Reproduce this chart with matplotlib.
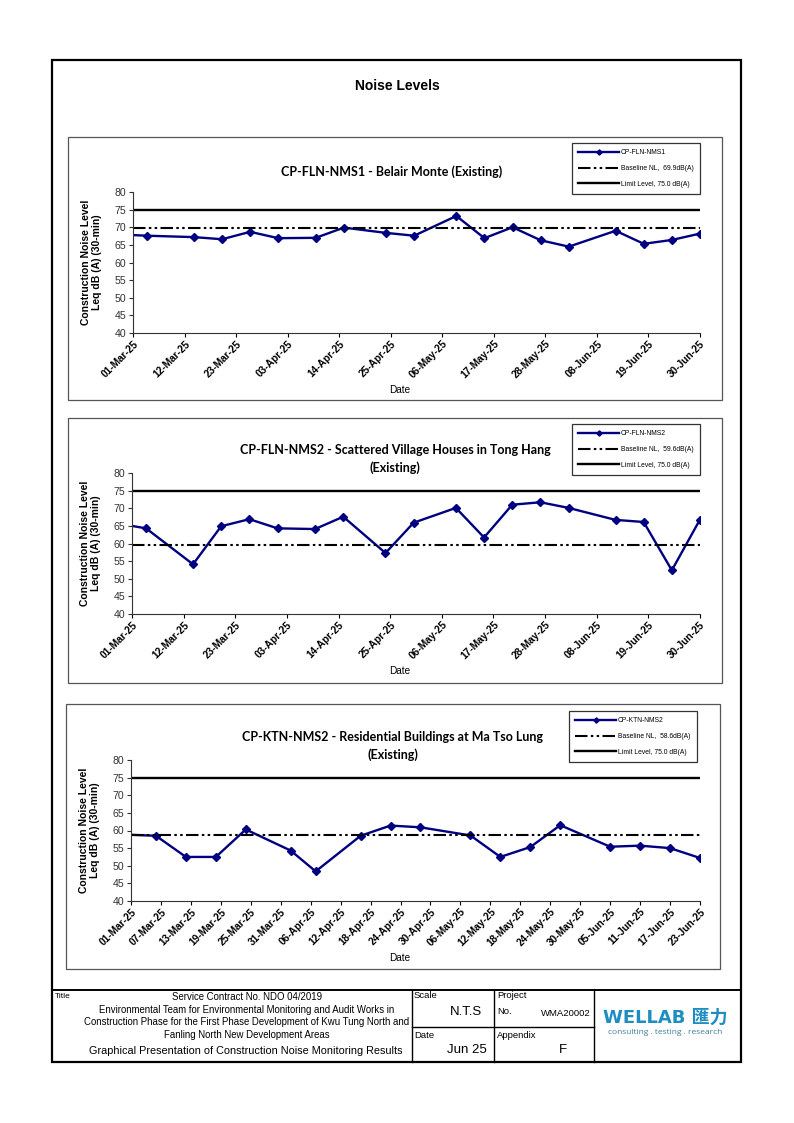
import matplotlib
matplotlib.use("Agg")
import matplotlib.pyplot as plt
import matplotlib.dates as mdates
from matplotlib.patches import Rectangle
from matplotlib.lines import Line2D
import numpy as np
import pandas as pd

# ---------------- data ----------------
nms1_dates = ["2025-02-25", "2025-03-04", "2025-03-14", "2025-03-20", "2025-03-26", "2025-04-01",
              "2025-04-09", "2025-04-15", "2025-04-24", "2025-04-30", "2025-05-09", "2025-05-15",
              "2025-05-21", "2025-05-27", "2025-06-02", "2025-06-12", "2025-06-18", "2025-06-24",
              "2025-06-30"]
nms1_values = [68.0, 67.6, 67.2, 66.6, 68.7, 66.9, 67.0, 69.9, 68.4, 67.6, 73.2, 66.9,
               70.0, 66.3, 64.5, 69.0, 65.3, 66.4, 68.2]
nms1_baseline = 69.9

nms2_dates = nms1_dates
nms2_values = [65.9, 64.3, 54.1, 64.9, 66.9, 64.3, 64.1, 67.6, 57.3, 65.9, 70.1, 61.7,
               71.0, 71.7, 70.1, 66.7, 66.1, 52.4, 66.8]
nms2_baseline = 59.6

ktn_dates = ["2025-02-25", "2025-03-06", "2025-03-12", "2025-03-18", "2025-03-24", "2025-04-02",
             "2025-04-07", "2025-04-16", "2025-04-22", "2025-04-28", "2025-05-08", "2025-05-14",
             "2025-05-20", "2025-05-26", "2025-06-05", "2025-06-11", "2025-06-17", "2025-06-23"]
ktn_values = [59.0, 58.5, 52.5, 52.5, 60.3, 54.3, 48.4, 58.5, 61.4, 60.9, 58.6, 52.5,
              55.3, 61.5, 55.4, 55.7, 55.0, 52.2]
ktn_baseline = 58.6

limit_level = 75.0

charts = [
    dict(title="CP-FLN-NMS1 - Belair Monte (Existing)", name="CP-FLN-NMS1",
         dates=nms1_dates, values=nms1_values, base=nms1_baseline,
         start="2025-03-01", end="2025-06-30", step=11),
    dict(title="CP-FLN-NMS2 - Scattered Village Houses in Tong Hang\n(Existing)", name="CP-FLN-NMS2",
         dates=nms2_dates, values=nms2_values, base=nms2_baseline,
         start="2025-03-01", end="2025-06-30", step=11),
    dict(title="CP-KTN-NMS2 - Residential Buildings at Ma Tso Lung\n(Existing)", name="CP-KTN-NMS2",
         dates=ktn_dates, values=ktn_values, base=ktn_baseline,
         start="2025-03-01", end="2025-06-23", step=6),
]

# ---------------- layout ----------------
W, H = 794, 1123
fig = plt.figure(figsize=(W / 100, H / 100), dpi=100)
plt.rcParams['font.family'] = ['Liberation Sans', 'DejaVu Sans']


def fx(x):
    return x / W


def fy(y):
    return 1 - y / H


def rect(x0, y0, x1, y1, lw=1.0, ec="black"):
    fig.add_artist(Rectangle((fx(x0), fy(y1)), (x1 - x0) / W, (y1 - y0) / H,
                             transform=fig.transFigure, fill=False, lw=lw, ec=ec))


def hline(x0, x1, y, lw=1.0, c="black"):
    fig.add_artist(Line2D([fx(x0), fx(x1)], [fy(y), fy(y)], transform=fig.transFigure, lw=lw, color=c))


def vline(x, y0, y1, lw=1.0, c="black"):
    fig.add_artist(Line2D([fx(x), fx(x)], [fy(y0), fy(y1)], transform=fig.transFigure, lw=lw, color=c))


# outer frame
rect(52, 60, 741, 1062, lw=1.6)
fig.text(fx(397), fy(86), "Noise Levels", ha="center", va="center", fontsize=10, fontweight="bold")

panels = [(68, 137, 722, 400), (68, 418, 722, 683), (66, 704, 720, 969)]
axes_px = [(133, 192, 700, 333), (132, 473, 700, 614), (131, 760, 700, 901)]
title_pos = [(392, 172), (395, 459), (393, 746)]
legend_px = [(572, 143), (572, 424), (569, 711)]
date_y = [390, 671, 958]

navy = "#000080"
base_style = (0, (6, 1.6, 1.2, 1.6, 1.2, 1.6))

for i, c in enumerate(charts):
    rect(*panels[i], lw=0.9, ec="#555555")
    x0, y0, x1, y1 = axes_px[i]
    ax = fig.add_axes([fx(x0), fy(y1), (x1 - x0) / W, (y1 - y0) / H])
    d = pd.to_datetime(c["dates"])
    ln, = ax.plot(d, c["values"], color=navy, lw=1.7, marker="D", ms=4.5,
                  mfc=navy, mec=navy, label=c["name"])
    bl = ax.axhline(c["base"], color="black", lw=1.5, ls=base_style,
                    label=f"Baseline NL,  {c['base']:.1f}dB(A)")
    ll = ax.axhline(limit_level, color="black", lw=1.7, label="Limit Level, 75.0 dB(A)")
    start = pd.Timestamp(c["start"])
    end = pd.Timestamp(c["end"])
    ax.set_xlim(start, end)
    ax.set_ylim(40, 80)
    ax.set_yticks(np.arange(40, 81, 5))
    ticks = pd.date_range(start, end, freq=f"{c['step']}D")
    ax.set_xticks(ticks)
    ax.xaxis.set_major_formatter(mdates.DateFormatter("%d-%b-%y"))
    for s in ["top", "right"]:
        ax.spines[s].set_visible(False)
    for s in ["left", "bottom"]:
        ax.spines[s].set_color("#333333")
        ax.spines[s].set_linewidth(0.8)
    ax.tick_params(axis="y", labelsize=7.6, length=3, width=0.8, colors="#333333", pad=2)
    ax.tick_params(axis="x", labelsize=7.3, length=3, width=0.8, colors="black", pad=1)
    for lab in ax.get_xticklabels():
        lab.set_rotation(45)
        lab.set_ha("right")
        lab.set_va("top")
        lab.set_rotation_mode("anchor")
        lab.set_fontweight("bold")
    ax.set_ylabel("Construction Noise Level\nLeq dB (A) (30-min)", fontsize=7.5, fontweight="bold",
                  labelpad=9, linespacing=1.05)
    fig.text(fx(400), fy(date_y[i]), "Date", ha="center", va="center", fontsize=7.2)
    tx, ty = title_pos[i]
    fig.text(fx(tx), fy(ty), c["title"], ha="center", va="center", fontsize=9,
             fontweight="bold", family=["Lato", "DejaVu Sans"], linespacing=1.45)
    lx, ly = legend_px[i]
    leg = fig.legend(handles=[ln, bl, ll], loc="upper left",
                     bbox_to_anchor=(fx(lx), fy(ly)), bbox_transform=fig.transFigure,
                     fontsize=4.9, frameon=True, fancybox=False, edgecolor="black",
                     handlelength=6.0, handletextpad=0.3, labelspacing=1.3,
                     borderpad=0.9, borderaxespad=0, markerscale=0.6)
    leg.get_frame().set_linewidth(0.9)

# ---------------- title block ----------------
hline(52, 741, 990, lw=1.4)
vline(412, 990, 1062, lw=1.0)
vline(494, 990, 1062, lw=1.0)
vline(594, 990, 1062, lw=1.0)
hline(412, 594, 1027, lw=1.0)

nar = ["Liberation Sans Narrow", "Liberation Sans", "DejaVu Sans"]
fig.text(fx(55), fy(996), "Title", fontsize=6, va="center", ha="left", family=nar)
block_lines = ["Service Contract No. NDO 04/2019",
               "Environmental Team for Environmental Monitoring and Audit Works in",
               "Construction Phase for the First Phase Development of Kwu Tung North and",
               "Fanling North New Development Areas"]
for k, t in enumerate(block_lines):
    fig.text(fx(247), fy(997 + 12.6 * k), t, fontsize=6.9, ha="center", va="center", family=nar)
fig.text(fx(246), fy(1051), "Graphical Presentation of Construction Noise Monitoring Results",
         fontsize=7.8, ha="center", va="center", family=nar)
fig.text(fx(414), fy(996), "Scale", fontsize=6.8, ha="left", va="center", family=nar)
fig.text(fx(466), fy(1012), "N.T.S", fontsize=9.5, ha="center", va="center", family=nar)
fig.text(fx(414), fy(1035), "Date", fontsize=6.8, ha="left", va="center", family=nar)
fig.text(fx(467), fy(1050), "Jun 25", fontsize=9.5, ha="center", va="center", family=nar)
fig.text(fx(497), fy(996), "Project", fontsize=6.8, ha="left", va="center", family=nar)
fig.text(fx(497), fy(1012), "No.", fontsize=6.8, ha="left", va="center", family=nar)
fig.text(fx(591), fy(1014), "WMA20002", fontsize=6.8, ha="right", va="center", family=nar)
fig.text(fx(497), fy(1035), "Appendix", fontsize=6.8, ha="left", va="center", family=nar)
fig.text(fx(563), fy(1050), "F", fontsize=9.5, ha="center", va="center", family=nar)

logo_c = "#1e8dc0"
fig.text(fx(665), fy(1018), "WELLAB 匯力", fontsize=13, fontweight="bold", color=logo_c,
         ha="center", va="center", family=["DejaVu Sans", "Noto Sans CJK SC"])
fig.text(fx(665), fy(1032), "consulting . testing . research", fontsize=6, color="#3c7f9a",
         ha="center", va="center", family=["Open Sans", "DejaVu Sans"])

fig.savefig("out.png", dpi=100)
